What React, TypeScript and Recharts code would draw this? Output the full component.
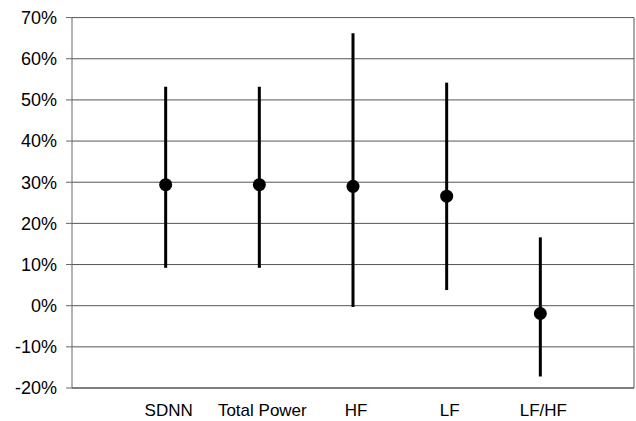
import React from "react";
import {
  ComposedChart,
  Scatter,
  ErrorBar,
  XAxis,
  YAxis,
  CartesianGrid,
  ReferenceLine,
} from "recharts";

// change (%) per HRV measure, with the low/high ends of each bar
const measures = ["SDNN", "Total Power", "HF", "LF", "LF/HF"];
const means = [29.4, 29.4, 29.0, 26.6, -1.9];
const lows = [9.2, 9.2, -0.3, 3.8, -17.2];
const highs = [53.2, 53.2, 66.2, 54.2, 16.6];
const yTicks = [-20, -10, 0, 10, 20, 30, 40, 50, 60, 70];

const data = measures.map((name, i) => ({
  x: i + 1,
  name,
  mean: means[i],
  err: [means[i] - lows[i], highs[i] - means[i]],
}));

const Dot = (props: any) => (
  <circle cx={props.cx} cy={props.cy} r={6.5} fill="#000" />
);

export default function App() {
  return (
    <div style={{ position: "absolute", left: 0, top: 0, background: "#fff" }}>
      <ComposedChart
        width={636}
        height={421}
        data={data}
        margin={{ top: 17.6, right: 2, bottom: 0, left: 0 }}
      >
        <CartesianGrid vertical={false} stroke="#555" />
        <XAxis
          type="number"
          dataKey="x"
          domain={[0, 6]}
          ticks={[1, 2, 3, 4, 5]}
          tickFormatter={(v: number) => measures[v - 1] ?? ""}
          height={33}
          tickLine={false}
          tickSize={8}
          tickMargin={8}
          axisLine={{ stroke: "#555" }}
          tick={{ fill: "#000", fontSize: 17, fontFamily: "Liberation Sans, Arial, sans-serif", dx: 3 }}
        />
        <YAxis
          type="number"
          domain={[-20, 70]}
          ticks={yTicks}
          interval={0}
          width={72}
          tickSize={6}
          tickMargin={9}
          tickFormatter={(v: number) => `${v}%`}
          axisLine={{ stroke: "#666" }}
          tickLine={{ stroke: "#666" }}
          tick={{ fill: "#000", fontSize: 18, fontFamily: "Liberation Sans, Arial, sans-serif" }}
        />
        <ReferenceLine x={6} stroke="#555" />
        <Scatter dataKey="mean" shape={Dot} isAnimationActive={false}>
          <ErrorBar
            dataKey="err"
            direction="y"
            width={0}
            stroke="#000"
            strokeWidth={3}
            isAnimationActive={false}
          />
        </Scatter>
      </ComposedChart>
    </div>
  );
}
